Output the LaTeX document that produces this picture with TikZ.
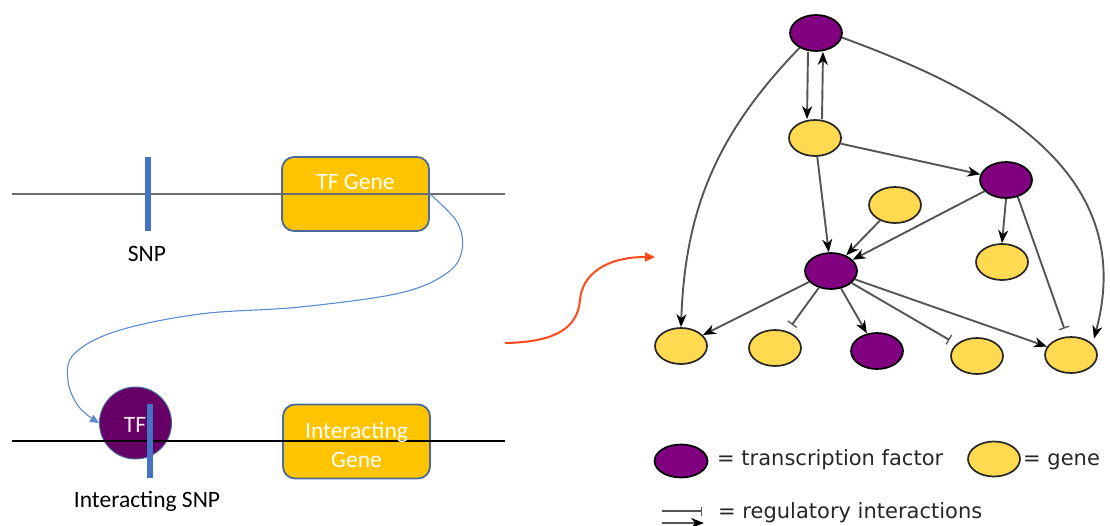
\documentclass[tikz,border=0pt]{standalone}
\usepackage{fontspec}
\setmainfont{Carlito}
\newfontfamily\legendfont{DejaVu Sans}
\usetikzlibrary{arrows.meta,shapes.geometric}

\definecolor{genegold}{HTML}{FFC400}
\definecolor{boxedge}{HTML}{4A6A9A}
\definecolor{snpblue}{HTML}{4472C4}
\definecolor{tfpurple}{HTML}{660066}
\definecolor{netpurple}{HTML}{800080}
\definecolor{netyellow}{HTML}{FFD94F}
\definecolor{edgegray}{HTML}{555555}
\definecolor{linkblue}{HTML}{5B8BD0}
\definecolor{flowred}{HTML}{FF4A1C}
\definecolor{strandgray}{HTML}{6A6E74}

\begin{document}
\begin{tikzpicture}[x=1pt,y=-1pt,
  genebox/.style={draw=boxedge, line width=1.8pt, fill=genegold,
    rounded corners=12pt, minimum width=147pt, minimum height=74pt, inner sep=0pt},
  boxtext/.style={text=white, font=\fontsize{23.5}{28}\selectfont, anchor=base, inner sep=0pt},
  plaintext/.style={font=\fontsize{23.5}{28}\selectfont, anchor=base, inner sep=0pt},
  snpbar/.style={draw=snpblue, line width=6.5pt},
  tfnode/.style={ellipse, draw=black, line width=1.7pt, fill=netpurple,
    minimum width=52pt, minimum height=36pt, inner sep=0pt},
  genenode/.style={ellipse, draw=black!85, line width=1.7pt, fill=netyellow,
    minimum width=52pt, minimum height=36pt, inner sep=0pt},
  act/.style={draw=edgegray, line width=1.9pt,
    -{Stealth[length=13pt,width=10pt,inset=4pt,color=black]}},
  rep/.style={draw=edgegray, line width=1.9pt,
    -{Bar[width=11pt,line width=1.3pt]}, shorten >=8pt},
  legendtext/.style={font=\legendfont\fontsize{21}{25}\selectfont, anchor=base west, inner sep=0pt,
    text=black!85}
]
\useasboundingbox (0,0) rectangle (1110,525);
\clip (0,0) rectangle (1110,525);

% ---------- chromosome strands with genes and SNPs ----------
\node[genebox] (tfgene) at (355.5,194) {};
\node[genebox] (intgene) at (356.5,441.5) {};
\node[circle, draw=boxedge, line width=1pt, fill=tfpurple,
  minimum size=72pt, inner sep=0pt] (tf) at (135.5,423) {};

\coordinate (topL) at (12,194);
\coordinate (topR) at (505,194);
\coordinate (botL) at (12,441);
\coordinate (botR) at (505,441);
\draw[strandgray, line width=1.2pt] (topL) -- (topR);
\draw[black, line width=1.5pt] (botL) -- (botR);

\coordinate (snpT) at (148,157);
\coordinate (snpB) at (148,231);
\draw[snpbar] (snpT) -- (snpB);
\coordinate (isnpT) at (150,404);
\coordinate (isnpB) at (150,478);
\draw[snpbar, line width=6pt] (isnpT) -- (isnpB);

\node[boxtext] (tfgenelabel) at (355.5,189) {TF Gene};
\node[boxtext] (intlabelA) at (356.5,438) {Interacting};
\node[boxtext] (intlabelB) at (356.5,467) {Gene};
\node[boxtext, text=white!92!magenta] (tflabel) at (135,432) {TF};
\node[plaintext] (snplabel) at (147,261) {SNP};
\node[plaintext] (isnplabel) at (147,507) {Interacting SNP};

% the TF gene product travels to the interacting SNP
\draw[linkblue, line width=1.1pt, -{Triangle[length=9pt,width=8pt]}]
  plot[smooth, tension=0.6] coordinates {(tfgene.east) (457,222) (462,250) (447,273)
    (400,293) (300,307) (200,314) (117,331) (74,354) (68,381) (79,407) (tf.west)};

% ---------- arrow to the network ----------
\coordinate (redstart) at (505,343);
\coordinate (redend) at (655,257);
\draw[flowred, line width=2pt, -{Triangle[length=10pt,width=9pt]}]
  (redstart) .. controls (570,342) and (578,318) .. (580,300)
  .. controls (582,275) and (605,257) .. (redend);

% ---------- regulatory network ----------
\node[tfnode]   (n1) at (816,33) {};
\node[genenode] (n2) at (815,138) {};
\node[tfnode]   (n3) at (1006,180) {};
\node[genenode] (n4) at (895,205) {};
\node[tfnode]   (n5) at (831,271) {};
\node[genenode] (n6) at (1002,262) {};
\node[genenode] (b1) at (681,346) {};
\node[genenode] (b2) at (775,348) {};
\node[tfnode]   (b3) at (877,351) {};
\node[genenode] (b4) at (977,356) {};
\node[genenode] (b5) at (1071,355) {};

\draw[act] ([xshift=-8pt]n1.south) -- ([xshift=-8pt]n2.north);
\draw[act] ([xshift=7pt]n2.north) -- ([xshift=7pt]n1.south);
\draw[act] (n1.222) to[out=226, in=88] (b1.north);
\draw[act] (n1.-10) to[out=-20, in=75, looseness=1.1]
  ([xshift=4pt,yshift=3pt]b5.north east);
\draw[act] (n2) -- (n3);
\draw[act] (n2) -- (n5);
\draw[act] (n4) -- (n5);
\draw[act] (n3) -- (n5);
\draw[act] (n3.south) -- (n6.north);
\draw[rep] (n3.-55) -- ([xshift=-4pt]b5.north);
\draw[act] (n5) -- (b1);
\draw[rep] (n5) -- (b2);
\draw[act] (n5) -- (b3);
\draw[rep] (n5) -- (b4);
\draw[act] (n5) -- (b5);

% ---------- legend ----------
\node[tfnode, minimum width=53pt, minimum height=33pt] (legtf) at (681,461) {};
\node[legendtext] (legtftext) at (717,465) {= transcription factor};
\node[genenode, minimum width=52pt, minimum height=35pt] (leggene) at (994,459) {};
\node[legendtext] (leggenetext) at (1023,465) {= gene};

\coordinate (repA) at (662,511);
\coordinate (repB) at (702,511);
\coordinate (actA) at (662,523);
\coordinate (actB) at (704,523);
\draw[draw=edgegray, line width=1.6pt, -{Bar[width=9pt,line width=1.2pt]}] (repA) -- (repB);
\draw[act] (actA) -- (actB);
\node[legendtext] (regtext) at (718,518) {= regulatory interactions};
\end{tikzpicture}
\end{document}
